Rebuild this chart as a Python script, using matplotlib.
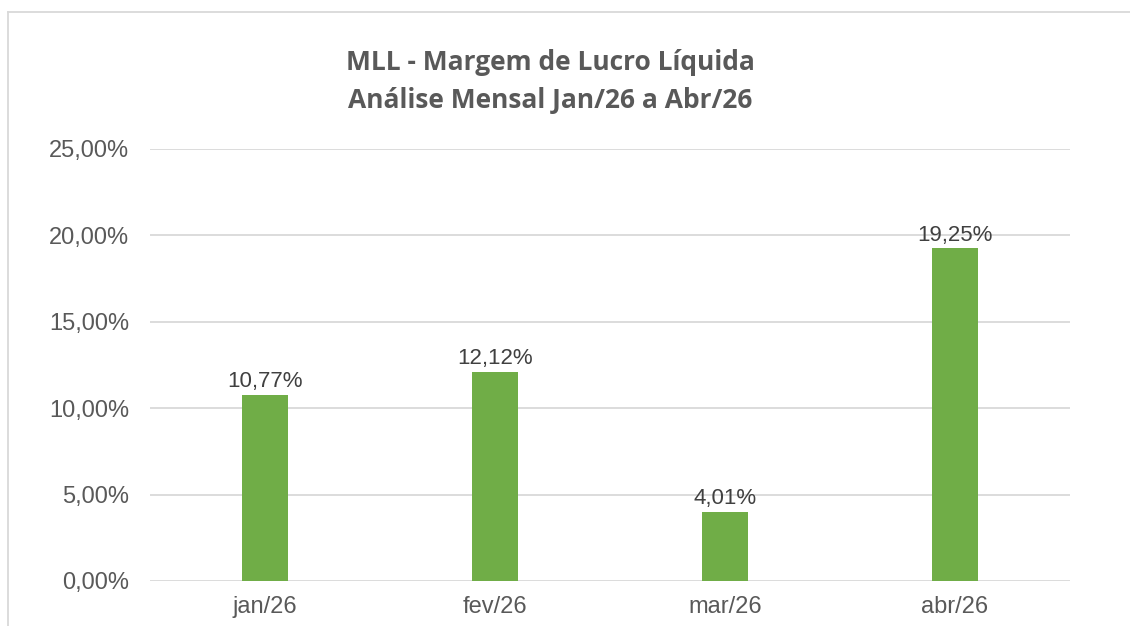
import matplotlib
matplotlib.use("Agg")
import matplotlib.pyplot as plt
from matplotlib.ticker import FuncFormatter, MultipleLocator
from matplotlib.lines import Line2D

categories = ["jan/26", "fev/26", "mar/26", "abr/26"]
values = [10.77, 12.12, 4.01, 19.25]
title_lines = ["MLL - Margem de Lucro Líquida", "Análise Mensal Jan/26 a Abr/26"]

text_color = "#595959"
bar_color = "#70AD47"
grid_color = "#D9D9D9"

fig = plt.figure(figsize=(11.3, 6.26), dpi=100)
fig.patch.set_facecolor("white")

ax = fig.add_axes([150/1130, 1-581/626, 920/1130, 432/626])
x = range(len(categories))
bars = ax.bar(x, values, width=0.2, color=bar_color, zorder=3)
ax.set_xlim(-0.5, len(categories) - 0.5)
ax.set_ylim(0, 25)
ax.yaxis.set_major_locator(MultipleLocator(5))
ax.yaxis.set_major_formatter(FuncFormatter(lambda v, p: f"{v:.2f}".replace(".", ",") + "%"))
ax.set_xticks(list(x))
ax.set_xticklabels(categories)
ax.grid(axis="y", color=grid_color, linewidth=1.3, zorder=0)
for s in ax.spines.values():
    s.set_visible(False)
ax.tick_params(axis="both", length=0, labelsize=17, labelcolor=text_color)
ax.tick_params(axis="y", pad=15)
ax.tick_params(axis="x", pad=11)
for lab in ax.get_xticklabels() + ax.get_yticklabels():
    lab.set_fontfamily("Liberation Sans")

for b, v in zip(bars, values):
    ax.annotate(f"{v:.2f}".replace(".", ",") + "%",
                (b.get_x() + b.get_width()/2, v), xytext=(0, 2), textcoords="offset points",
                ha="center", va="bottom", fontsize=16, color="#404040", family="Liberation Sans")

fig.text(550/1130, 1-62/626, title_lines[0], ha="center", va="center",
         fontsize=19, fontweight="bold", color=text_color, family="Open Sans")
fig.text(550/1130, 1-100/626, title_lines[1], ha="center", va="center",
         fontsize=19, fontweight="bold", color=text_color, family="Open Sans")

# chart area border (top and left visible)
fig.add_artist(Line2D([8/1130, 8/1130], [0, 1-12/626], transform=fig.transFigure, color="#D9D9D9", lw=1.3))
fig.add_artist(Line2D([8/1130, 1], [1-12/626, 1-12/626], transform=fig.transFigure, color="#D9D9D9", lw=1.3))

fig.savefig("out.png", dpi=100, facecolor="white")
